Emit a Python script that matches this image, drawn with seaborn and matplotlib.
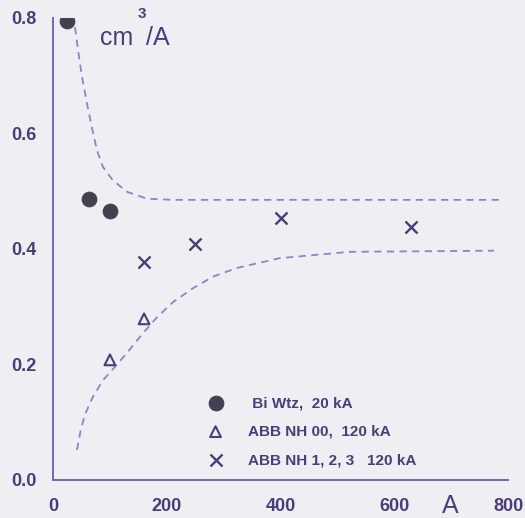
import matplotlib
matplotlib.use("Agg")
import matplotlib.pyplot as plt
import numpy as np
import pandas as pd
import seaborn as sns
from matplotlib.ticker import MultipleLocator

# measured points (rated current A, volume cm3/A)
bi_x = [25, 63, 100]
bi_y = [0.795, 0.487, 0.466]
nh00_x = [100, 160]
nh00_y = [0.208, 0.279]
nh123_x = [160, 250, 400, 630]
nh123_y = [0.377, 0.409, 0.454, 0.438]

labels = [" Bi Wtz,  20 kA", "ABB NH 00,  120 kA", "ABB NH 1, 2, 3   120 kA"]

# dashed envelope curves
upper_x = [38.6, 43.9, 50.9, 59.6, 68.4, 77.2, 87.7, 105, 130, 165, 211, 300, 500, 789]
upper_y = [0.784, 0.745, 0.698, 0.652, 0.610, 0.571, 0.542, 0.519, 0.499, 0.487, 0.485,
           0.485, 0.485, 0.485]
lower_x = [42, 49, 56, 70, 88, 109, 130, 153, 182, 211, 246, 281, 323, 398, 521, 775]
lower_y = [0.052, 0.088, 0.113, 0.144, 0.173, 0.196, 0.220, 0.248, 0.281, 0.308, 0.332,
           0.352, 0.367, 0.384, 0.395, 0.397]

bg = "#efeef3"
ink = "#4a3d78"
axis_col = "#7468ac"
dash_col = "#8d84c4"

sns.set_style("white")
plt.rcParams["font.family"] = ["Liberation Sans", "DejaVu Sans"]

fig = plt.figure(figsize=(5.25, 5.18), dpi=100, facecolor=bg)
ax = fig.add_axes([0.101, 0.0734, 0.867, 0.892], facecolor=bg)

sns.lineplot(x=upper_x, y=upper_y, ax=ax, color=dash_col, lw=1.3, linestyle=(0, (4, 3)), sort=False)
sns.lineplot(x=lower_x, y=lower_y, ax=ax, color=dash_col, lw=1.3, linestyle=(0, (4, 3)), sort=False)

df_bi = pd.DataFrame({"x": bi_x, "y": bi_y})
df_00 = pd.DataFrame({"x": nh00_x, "y": nh00_y})
df_123 = pd.DataFrame({"x": nh123_x, "y": nh123_y})

sns.scatterplot(data=df_bi, x="x", y="y", ax=ax, marker="o", s=110, color="#45404f",
                edgecolor="#45404f", label=labels[0], zorder=3)
sns.scatterplot(data=df_00, x="x", y="y", ax=ax, marker="^", s=60, facecolor="none",
                edgecolor=ink, linewidth=1.5, label=labels[1], zorder=3)
sns.scatterplot(data=df_123, x="x", y="y", ax=ax, marker="x", s=75, color=ink,
                linewidth=1.7, label=labels[2], zorder=3)

ax.set_xlim(0, 800)
ax.set_ylim(0, 0.8)
ax.xaxis.set_major_locator(MultipleLocator(200))
ax.xaxis.set_minor_locator(MultipleLocator(100))
ax.yaxis.set_major_locator(MultipleLocator(0.2))
ax.yaxis.set_minor_locator(MultipleLocator(0.1))
ax.yaxis.set_major_formatter(matplotlib.ticker.FormatStrFormatter("%.1f"))

for side in ["top", "right"]:
    ax.spines[side].set_visible(False)
for side in ["left", "bottom"]:
    ax.spines[side].set_color(axis_col)
    ax.spines[side].set_linewidth(1.4)

ax.tick_params(which="major", direction="out", length=5, width=1.2, color=axis_col,
               labelsize=13, labelcolor=ink)
ax.tick_params(axis="x", which="major", pad=8)
ax.tick_params(axis="y", which="major", pad=7)
ax.tick_params(which="minor", direction="out", length=3, width=1.0, color=axis_col)
ax.tick_params(axis="x", which="minor", direction="in")
for lab in ax.get_xticklabels() + ax.get_yticklabels():
    lab.set_fontweight("bold")
ax.set_xlabel("")
ax.set_ylabel("")

ax.text(0.103, 0.942, "cm", transform=ax.transAxes, fontsize=18, color=ink,
        ha="left", va="baseline")
ax.text(0.185, 1.009, "3", transform=ax.transAxes, fontsize=11, color=ink,
        ha="left", va="center", fontweight="bold")
ax.text(0.205, 0.942, "/A", transform=ax.transAxes, fontsize=18, color=ink,
        ha="left", va="baseline")
ax.text(0.873, -0.056, "A", transform=ax.transAxes, fontsize=18, color=ink,
        ha="center", va="center")

leg = ax.legend(loc="lower left", bbox_to_anchor=(0.31, -0.002), frameon=False,
                handlelength=1.0, handletextpad=1.6, labelspacing=0.95,
                prop={"size": 11, "weight": "bold"})
for t in leg.get_texts():
    t.set_color(ink)

fig.savefig("out.png", dpi=100, facecolor=bg)
